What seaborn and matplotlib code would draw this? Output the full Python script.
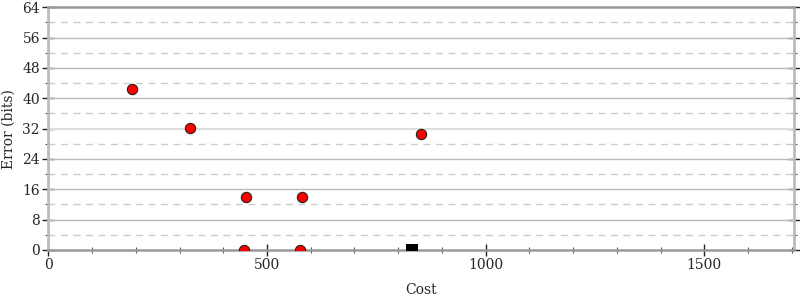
import matplotlib
matplotlib.use("Agg")
import matplotlib.pyplot as plt
import seaborn as sns
import pandas as pd
from matplotlib.ticker import MultipleLocator

# Data
alt_cost = [192, 324, 453, 581, 448, 576, 853]
alt_error = [42.5, 32.2, 13.9, 13.9, 0.0, 0.0, 30.7]
init_cost = [831]
init_error = [0.0]
x_ticks = [0, 500, 1000, 1500]
y_ticks = [0, 8, 16, 24, 32, 40, 48, 56, 64]

sns.set_theme(style="white")
plt.rcParams['font.family'] = ['DejaVu Serif']

fig = plt.figure(figsize=(8, 3), dpi=100)
ax = fig.add_axes([0.0604, 0.1667, 0.9325, 0.809])

alts = pd.DataFrame({"cost": alt_cost, "error": alt_error})
init = pd.DataFrame({"cost": init_cost, "error": init_error})

ax.set_xlim(0, 1706)
ax.set_ylim(0, 64)

ax.yaxis.set_major_locator(MultipleLocator(8))
ax.yaxis.set_minor_locator(MultipleLocator(4))
ax.xaxis.set_major_locator(MultipleLocator(500))
ax.xaxis.set_minor_locator(MultipleLocator(100))
for v in y_ticks[1:-1]:
    if v == 32:
        ax.axhline(v, color="#dddddd", lw=1.6, zorder=1)
    else:
        ax.axhline(v, color="#bbbbbb", lw=1, zorder=1)
for v in range(4, 64, 8):
    ax.axhline(v, color="#cccccc", lw=1, ls=(0, (5, 4)), zorder=1)

sns.scatterplot(data=alts, x="cost", y="error", ax=ax, color="#ff0000",
                edgecolor="#222222", linewidth=0.8, s=55, zorder=3, legend=False)
sns.scatterplot(data=init, x="cost", y="error", ax=ax, color="black", marker="s",
                edgecolor="black", linewidth=0, s=70, zorder=3, legend=False)

ax.set_xticks(x_ticks)
ax.set_yticks(y_ticks)
ax.set_xlabel("Cost", fontsize=10, labelpad=8)
ax.set_ylabel("Error (bits)", fontsize=10, labelpad=5)

for side, c, w in [("left", "#bbbbbb", 2), ("right", "#bbbbbb", 2),
                   ("bottom", "#999999", 1.8), ("top", "#999999", 1.8)]:
    ax.spines[side].set_visible(True)
    ax.spines[side].set_color(c)
    ax.spines[side].set_linewidth(w)
    ax.spines[side].set_zorder(2)

ax.tick_params(axis="both", which="major", direction="inout", length=8, width=1,
               color="#222222", labelsize=10, pad=2)
ax.tick_params(axis="both", which="minor", direction="inout", length=4, width=0.8,
               color="#555555")
ax.tick_params(axis="y", which="both", left=True, right=True)
ax.tick_params(axis="x", which="both", bottom=True, top=False)

fig.savefig("out.png", dpi=100)
